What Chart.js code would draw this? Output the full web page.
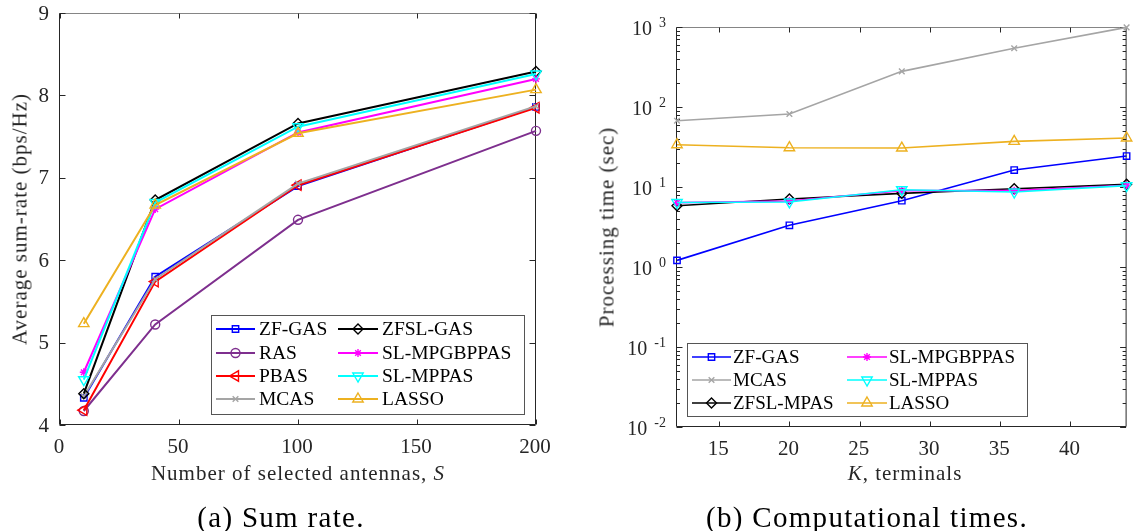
<!DOCTYPE html>
<html>
<head>
<meta charset="utf-8">
<script src="https://cdn.jsdelivr.net/npm/chart.js@4.4.0/dist/chart.umd.min.js"></script>
<style>
  body { margin: 0; background: #fff; width: 1134px; height: 531px; overflow: hidden; position: relative; font-family: "Liberation Serif", "Times New Roman", serif; }
  canvas { position: absolute; top: 0; }
  #rate { left: 0; }
  #time { left: 570px; }
  .lbl { position: absolute; white-space: nowrap; line-height: 1; transform: translate(-50%, -50%); }
  .ax { font-size: 21px; letter-spacing: 1px; color: #262626; }
  .rot { transform: translate(-50%, -50%) rotate(-90deg); }
  .cap { font-size: 29px; letter-spacing: 1.3px; color: #000; }
</style>
</head>
<body>
<canvas id="rate" width="560" height="531"></canvas>
<canvas id="time" width="564" height="531"></canvas>

<div class="lbl ax rot" style="left:20px; top:219px;">Average sum-rate (bps/Hz)</div>
<div class="lbl ax" style="left:298px; top:473px;">Number of selected antennas, <i>S</i></div>
<div class="lbl cap" style="left:281px; top:517px;">(a) Sum rate.</div>

<div class="lbl ax rot" style="left:607px; top:227px;">Processing time (sec)</div>
<div class="lbl ax" style="left:905px; top:473px;"><i>K</i>, terminals</div>
<div class="lbl cap" style="left:867px; top:517px;">(b) Computational times.</div>

<script>
const SERIF = '"Liberation Serif", "Times New Roman", serif';

// (a) sum rate vs number of selected antennas
const antennas = [10, 40, 100, 200];
const rateNames = ['ZF-GAS', 'RAS', 'PBAS', 'MCAS', 'ZFSL-GAS', 'SL-MPGBPPAS', 'SL-MPPAS', 'LASSO'];
const rateZFGAS = [4.33, 5.80, 6.90, 7.86];
const rateRAS = [4.17, 5.22, 6.49, 7.57];
const ratePBAS = [4.18, 5.74, 6.91, 7.85];
const rateMCAS = [4.35, 5.77, 6.93, 7.87];
const rateZFSLGAS = [4.38, 6.73, 7.66, 8.29];
const rateSLMPGBPPAS = [4.64, 6.62, 7.55, 8.20];
const rateSLMPPAS = [4.55, 6.70, 7.62, 8.26];
const rateLASSO = [5.23, 6.67, 7.54, 8.07];
const rateTicksX = [0, 50, 100, 150, 200];
const rateTicksY = [4, 5, 6, 7, 8, 9];

// (b) processing time vs number of terminals
const terminals = [12, 20, 28, 36, 44];
const timeNames = ['ZF-GAS', 'MCAS', 'ZFSL-MPAS', 'SL-MPGBPPAS', 'SL-MPPAS', 'LASSO'];
const timeZFGAS = [1.21, 3.32, 6.74, 16.3, 24.4];
const timeMCAS = [67.4, 81.8, 279, 542, 990];
const timeZFSLMPAS = [5.84, 7.08, 8.33, 9.5, 10.8];
const timeSLMPGBPPAS = [6.37, 6.68, 9.0, 9.0, 10.5];
const timeSLMPPAS = [6.4, 6.5, 9.25, 8.66, 10.4];
const timeLASSO = [33.8, 31.0, 30.7, 37.2, 41.0];
const timeTicksX = [15, 20, 25, 30, 35, 40];
const timeExponents = [-2, -1, 0, 1, 2, 3];

const lineStyles = {
  'ZF-GAS':      { color: '#0000ff', shape: 'rect',     radius: 4.5, rotation: 0 },
  'RAS':         { color: '#7e2f8e', shape: 'circle',   radius: 4.5, rotation: 0 },
  'PBAS':        { color: '#ff0000', shape: 'triangle', radius: 6,   rotation: -90 },
  'MCAS':        { color: '#a5a5a5', shape: 'crossRot', radius: 4,   rotation: 0 },
  'ZFSL-GAS':    { color: '#000000', shape: 'rectRot',  radius: 5,   rotation: 0 },
  'ZFSL-MPAS':   { color: '#000000', shape: 'rectRot',  radius: 5,   rotation: 0 },
  'SL-MPGBPPAS': { color: '#ff00ff', shape: 'star',     radius: 4,   rotation: 0 },
  'SL-MPPAS':    { color: '#00ffff', shape: 'triangle', radius: 6,   rotation: 180 },
  'LASSO':       { color: '#edb120', shape: 'triangle', radius: 6,   rotation: 0 }
};

function makeSets(names, series, xs, lw) {
  return names.map((name, i) => {
    const st = lineStyles[name];
    return {
      label: name,
      data: xs.map((x, j) => ({ x: x, y: series[i][j] })),
      borderColor: st.color,
      backgroundColor: 'rgba(0,0,0,0)',
      borderWidth: lw,
      pointStyle: st.shape,
      pointRadius: st.radius,
      pointHoverRadius: st.radius,
      pointRotation: st.rotation,
      pointBorderColor: st.color,
      pointBackgroundColor: 'rgba(0,0,0,0)',
      pointBorderWidth: 1.4,
      tension: 0,
      clip: false,
      order: names.length - i   // later series on top, like matlab
    };
  });
}

function seg(ctx, x1, y1, x2, y2) {
  ctx.beginPath();
  ctx.moveTo(x1, y1);
  ctx.lineTo(x2, y2);
  ctx.stroke();
}

// box, inward ticks and tick labels, then the legend
const matlabAxes = {
  id: 'matlabAxes',
  beforeDatasetsDraw(chart, args, o) {
    const ctx = chart.ctx, a = chart.chartArea;
    const xs = chart.scales.x, ys = chart.scales.y;
    const L = a.left - 0.5, R = a.right - 0.5, T = a.top + 0.5, B = a.bottom - 0.5;
    ctx.save();
    ctx.lineWidth = 1;
    ctx.strokeStyle = '#858585';
    seg(ctx, L, T, R, T);
    ctx.strokeStyle = '#262626';
    seg(ctx, L, T, L, B);
    seg(ctx, L, B, R, B);
    seg(ctx, R, T, R, B);

    o.xTicks.forEach(v => {
      const px = Math.round(xs.getPixelForValue(v)) + 0.5;
      seg(ctx, px, B, px, B - 5);
      seg(ctx, px, T, px, T + 5);
    });
    const yMajor = o.log ? o.yTicks.map(e => Math.pow(10, e)) : o.yTicks;
    yMajor.forEach(v => {
      const py = Math.round(ys.getPixelForValue(v)) + 0.5;
      seg(ctx, L, py, L + 6, py);
      seg(ctx, R, py, R - 6, py);
    });
    if (o.log) {
      for (let e = o.yTicks[0]; e < o.yTicks[o.yTicks.length - 1]; e++) {
        for (let m = 2; m <= 9; m++) {
          const py = Math.round(ys.getPixelForValue(m * Math.pow(10, e))) + 0.5;
          seg(ctx, L, py, L + 3.5, py);
          seg(ctx, R, py, R - 3.5, py);
        }
      }
    }

    ctx.fillStyle = '#262626';
    ctx.textBaseline = 'middle';
    ctx.font = '21px ' + SERIF;
    ctx.textAlign = 'center';
    o.xTicks.forEach(v => {
      ctx.fillText(String(v), xs.getPixelForValue(v) - 1, a.bottom + 22);
    });
    const lx = a.left - 11;
    if (o.log) {
      o.yTicks.forEach(e => {
        const py = ys.getPixelForValue(Math.pow(10, e));
        ctx.textAlign = 'right';
        ctx.font = '14px ' + SERIF;
        const ex = String(e);
        const w = ctx.measureText(ex).width;
        ctx.fillText(ex, lx, py - 4);
        ctx.font = '20px ' + SERIF;
        ctx.fillText('10', lx - w - 7, py + 3);
      });
    } else {
      ctx.textAlign = 'right';
      o.yTicks.forEach(v => {
        ctx.fillText(String(v), lx, ys.getPixelForValue(v) + 1);
      });
    }
    ctx.restore();
  },
  afterDatasetsDraw(chart, args, o) {
    const lg = o.legend, ctx = chart.ctx;
    const sets = chart.data.datasets;
    const rows = lg.rows.length;
    ctx.save();
    ctx.fillStyle = '#fff';
    ctx.fillRect(lg.box[0], lg.box[1], lg.box[2] - lg.box[0], lg.box[3] - lg.box[1]);
    ctx.strokeStyle = '#555';
    ctx.lineWidth = 1;
    ctx.strokeRect(lg.box[0] + 0.5, lg.box[1] + 0.5, lg.box[2] - lg.box[0], lg.box[3] - lg.box[1]);
    ctx.font = lg.size + 'px ' + SERIF;
    ctx.textAlign = 'left';
    ctx.textBaseline = 'middle';
    sets.forEach((ds, i) => {
      const col = lg.cols[Math.floor(i / rows)];
      const y = lg.rows[i % rows];
      ctx.strokeStyle = ds.borderColor;
      ctx.lineWidth = ds.borderWidth;
      seg(ctx, col.from, y, col.to, y);
      ctx.lineWidth = ds.pointBorderWidth;
      ctx.fillStyle = 'rgba(0,0,0,0)';
      Chart.helpers.drawPoint(ctx, {
        pointStyle: ds.pointStyle, radius: ds.pointRadius,
        rotation: ds.pointRotation, borderWidth: ds.pointBorderWidth
      }, (col.from + col.to) / 2, y);
      ctx.fillStyle = '#000';
      ctx.fillText(ds.label, col.text, y + 1);
    });
    ctx.restore();
  }
};

function fixedSize(prop, size) {
  return scale => { scale[prop] = size; };
}

new Chart(document.getElementById('rate'), {
  type: 'line',
  data: {
    datasets: makeSets(rateNames,
      [rateZFGAS, rateRAS, ratePBAS, rateMCAS, rateZFSLGAS, rateSLMPGBPPAS, rateSLMPPAS, rateLASSO],
      antennas, 2)
  },
  options: {
    responsive: false,
    devicePixelRatio: 1,
    animation: false,
    layout: { padding: { left: 0, right: 24, top: 13, bottom: 0 } },
    scales: {
      x: {
        type: 'linear', min: 0, max: 200,
        ticks: { display: false }, grid: { display: false, drawTicks: false }, border: { display: false },
        afterFit: fixedSize('height', 106)
      },
      y: {
        type: 'linear', min: 4, max: 9,
        ticks: { display: false }, grid: { display: false, drawTicks: false }, border: { display: false },
        afterFit: fixedSize('width', 60)
      }
    },
    plugins: {
      legend: { display: false },
      tooltip: { enabled: false },
      matlabAxes: {
        xTicks: rateTicksX, yTicks: rateTicksY, log: false,
        legend: {
          box: [211, 315, 524, 414],
          rows: [329, 353, 376, 399],
          cols: [{ from: 216, to: 255, text: 259 }, { from: 338, to: 378, text: 382 }],
          size: 19.5
        }
      }
    }
  },
  plugins: [matlabAxes]
});

new Chart(document.getElementById('time'), {
  type: 'line',
  data: {
    datasets: makeSets(timeNames,
      [timeZFGAS, timeMCAS, timeZFSLMPAS, timeSLMPGBPPAS, timeSLMPPAS, timeLASSO],
      terminals, 1.6)
  },
  options: {
    responsive: false,
    devicePixelRatio: 1,
    animation: false,
    layout: { padding: { left: 0, right: 2, top: 27, bottom: 0 } },
    scales: {
      x: {
        type: 'linear', min: 12, max: 44,
        ticks: { display: false }, grid: { display: false, drawTicks: false }, border: { display: false },
        afterFit: fixedSize('height', 104)
      },
      y: {
        type: 'logarithmic', min: 0.01, max: 1000,
        ticks: { display: false }, grid: { display: false, drawTicks: false }, border: { display: false },
        afterFit: fixedSize('width', 107)
      }
    },
    plugins: {
      legend: { display: false },
      tooltip: { enabled: false },
      matlabAxes: {
        xTicks: timeTicksX, yTicks: timeExponents, log: true,
        legend: {
          box: [117, 343, 457, 416],
          rows: [357, 380, 403],
          cols: [{ from: 122, to: 161, text: 163 }, { from: 277, to: 317, text: 319 }],
          size: 19
        }
      }
    }
  },
  plugins: [matlabAxes]
});
</script>
</body>
</html>
